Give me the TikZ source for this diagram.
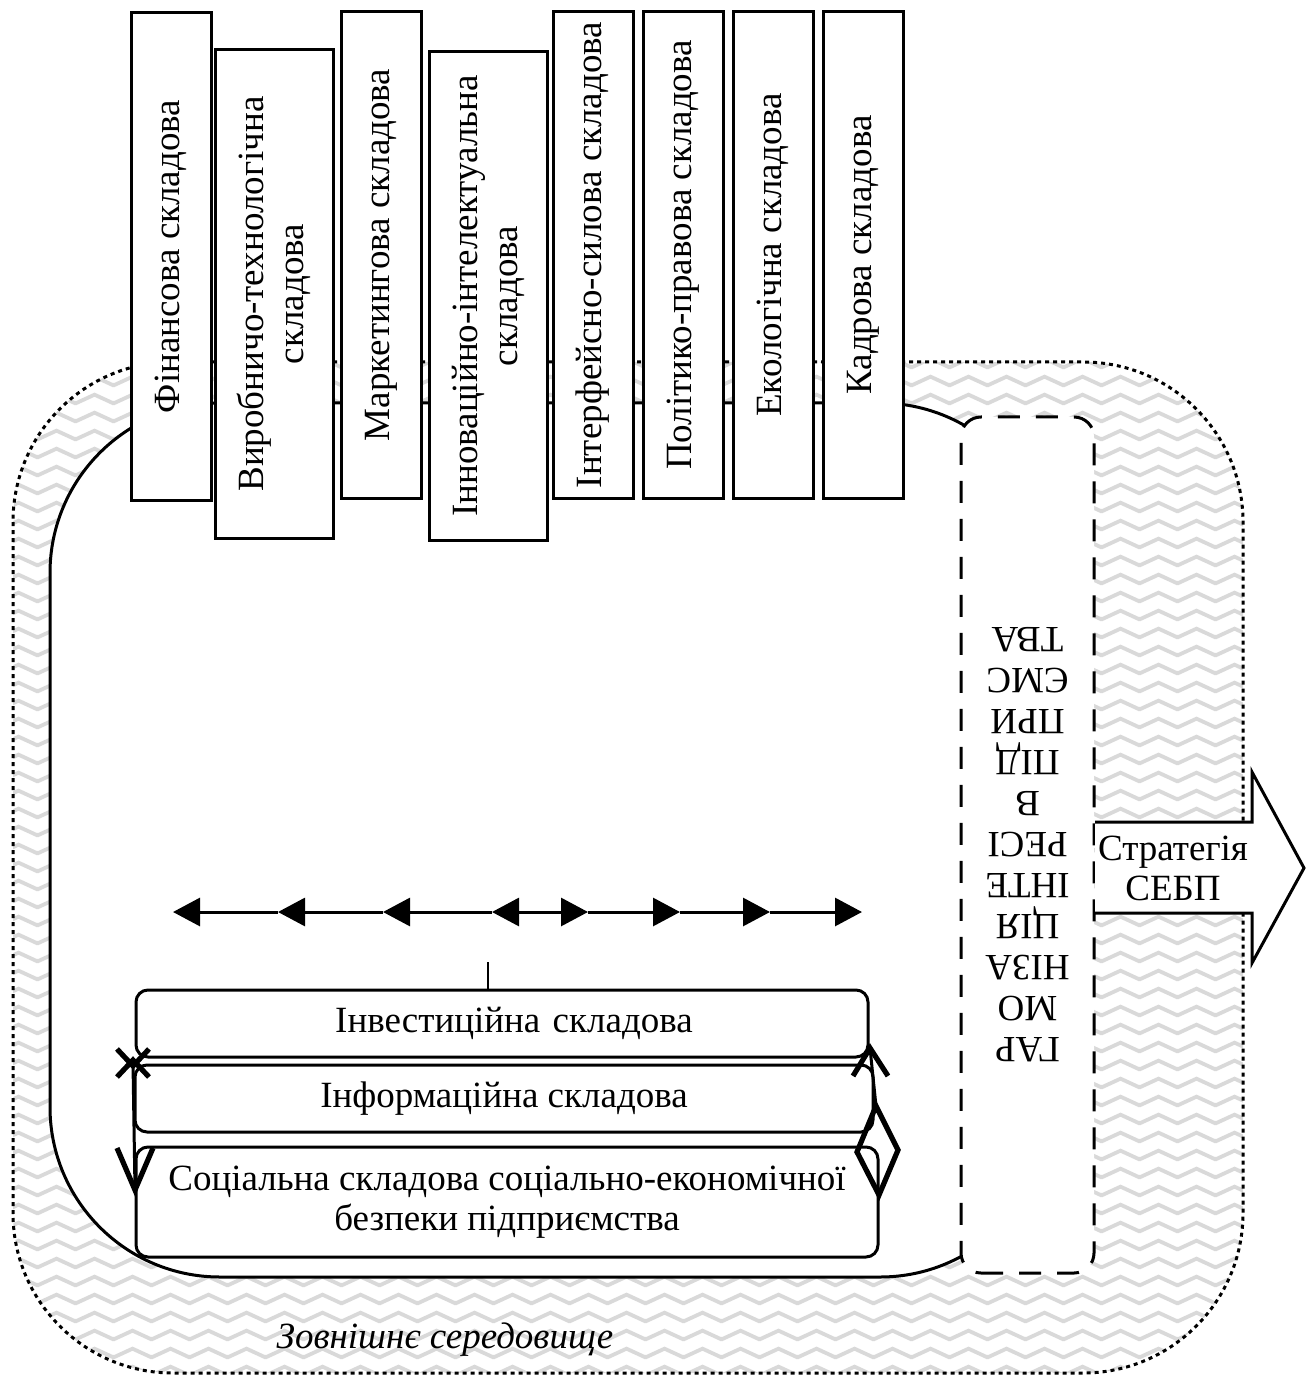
\documentclass[tikz,border=0pt]{standalone}
\usepackage{fontspec}
\setmainfont{Liberation Serif}
\usepackage{tikz}
\usetikzlibrary{arrows.meta, positioning, calc, patterns.meta}
\newcommand{\diagfont}{\fontsize{18.5}{20}\selectfont}
\tikzdeclarepattern{
  name=wavefill,
  type=uncolored,
  bounding box={(0pt,0pt) and (19pt,9pt)},
  tile size={(19pt,9pt)},
  code={
    \draw[line width=2pt] (-9.5pt,6.5pt) -- (0pt,2pt) -- (9.5pt,6.5pt) -- (19pt,2pt)
      -- (28.5pt,6.5pt);
  }
}

\begin{document}
\begin{tikzpicture}[
  x=0.5pt, y=-0.5pt,
  every node/.style={font=\diagfont},
  vbox/.style={draw, line width=1.5pt, fill=white, rotate=90, align=center,
               inner sep=1pt, minimum width=243.5pt, minimum height=40pt},
  widebox/.style={vbox, minimum width=244pt, minimum height=59pt},
  lowbox/.style={draw, line width=1.5pt, fill=white, rounded corners=6pt,
                 align=center, inner sep=1pt},
  harmbox/.style={draw, fill=white, line width=1.5pt, dash pattern=on 11pt off 8pt,
                  rounded corners=10pt, rotate=180, align=center,
                  minimum width=66.5pt, minimum height=428pt,
                  font=\fontsize{18.5}{20.5}\selectfont},
  flow/.style={line width=1.5pt, -{Triangle[length=13.5pt, width=14pt]}},
  barb/.style={line width=2.6pt, line join=miter},
]
\useasboundingbox (0,0) rectangle (1314,1379);
\draw[pattern=wavefill, pattern color=gray!30, line width=1.5pt,
      dash pattern=on 2pt off 2pt, rounded corners=80pt] (13,362) rectangle (1243,1373);
\draw[fill=white, line width=1.5pt, rounded corners=85pt] (50,403) rectangle (1050,1277);
\node[harmbox] (harm) at (1027.5,845)
  {ГАР\\МО\\НІЗА\\ЦІЯ\\ІНТЕ\\РЕСІ\\В\\ПІД\\ПРИ\\ЄМС\\ТВА};
\node[vbox] (fin) at (171,256.5) {Фінансова складова};
\node[widebox] (vyr) at (274,294) {Виробничо-технологічна\\складова};
\node[vbox] (mkt) at (381,255) {Маркетингова складова};
\node[widebox] (innov) at (488,296) {Інноваційно-інтелектуальна\\складова};
\node[vbox] (intf) at (593,255) {Інтерфейсно-силова складова};
\node[vbox] (pol) at (683,255) {Політико-правова складова};
\node[vbox] (eco) at (773,255) {Екологічна складова};
\node[vbox] (kadr) at (863,255) {Кадрова складова};
\draw[line width=1.5pt, fill=white] (1095,822) -- (1252,822) -- (1252,772) -- (1304,868)
  -- (1252,963) -- (1252,913) -- (1095,913);
\node[align=center] (strat) at (1173,868) {Стратегія\\СЕБП};
\coordinate (hub) at (525,912);
\foreach \n/\x in {l1/492, l2/383, l3/278, l4/173, r1/588, r2/680, r3/770, r4/862}
  \coordinate (\n) at (\x,912);
\foreach \a/\b in {hub/l1, l1/l2, l2/l3, l3/l4, hub/r1, r1/r2, r2/r3, r3/r4}
  \draw[flow] (\a) -- (\b);
\node[lowbox, minimum width=366pt, minimum height=33.5pt, text width=360pt] (inv) at (502,1023.5)
  {\hspace*{12pt}Інвестиційна складова};
\node[lowbox, minimum width=369pt, minimum height=33.5pt] (inf) at (504,1098.5)
  {Інформаційна складова};
\node[lowbox, minimum width=371pt, minimum height=55pt] (soc) at (507,1202)
  {Соціальна складова соціально-економічної\\безпеки підприємства};
\coordinate (tick) at (488,962);
\draw[line width=1pt] (tick) -- (tick |- inv.north);
\coordinate (lx) at (133,1063);
\coordinate (lv) at (135,1190);
\draw[barb] (lx) ++(-16,-14) -- ++(16,17) -- ++(16,-17);
\draw[barb] (lx) ++(-16,14) -- ++(16,-17) -- ++(16,17);
\draw[line width=1.5pt] (lx) -- (lv);
\draw[barb] (lv) ++(-18,-42) -- (lv) -- ++(18,-42);
\coordinate (rt) at (870,1048);
\coordinate (dtop) at (876,1106);
\coordinate (dbot) at (879,1195);
\draw[barb] (rt) ++(-17,28) -- (rt) -- ++(18,28);
\draw[line width=1.5pt] (rt) -- (dtop);
\draw[barb] (dtop) -- (857,1152) -- (dbot) -- (898,1150) -- cycle;
\node[font=\diagfont\itshape] (env) at (445,1340) {Зовнішнє середовище};
\end{tikzpicture}
\end{document}
